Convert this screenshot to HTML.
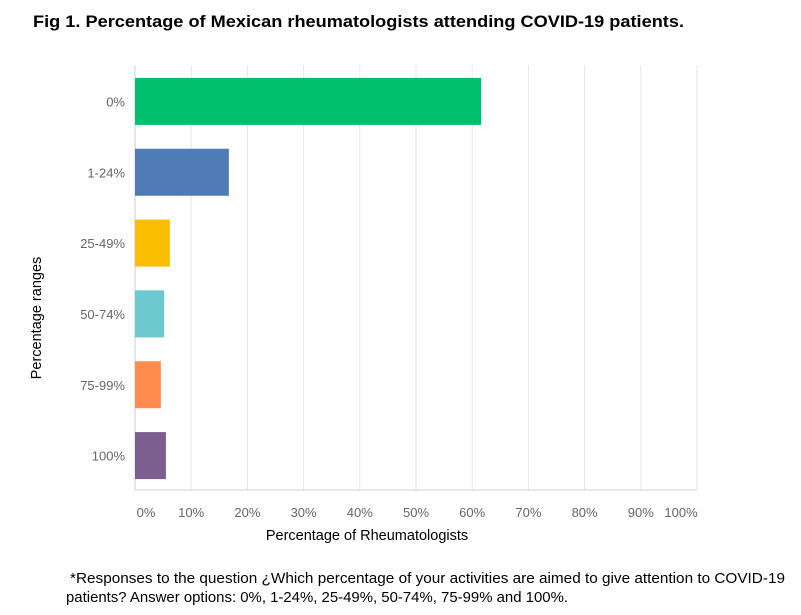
<!DOCTYPE html>
<html><head><meta charset="utf-8"><style>
body{margin:0;background:#fff;width:801px;height:615px;overflow:hidden;font-family:"Liberation Sans",sans-serif;}
svg{position:absolute;left:0;top:0}
</style></head><body>
<svg width="801" height="615">
<text x="33" y="27" font-size="17" font-weight="bold" fill="#000" textLength="651" lengthAdjust="spacingAndGlyphs">Fig 1. Percentage of Mexican rheumatologists attending COVID-19 patients.</text>
<g id="grid"></g><g id="bars"></g><g id="ylabels"></g><g id="xlabels"></g>
<text x="367" y="540" font-size="14.5" text-anchor="middle" fill="#000">Percentage of Rheumatologists</text>
<text transform="translate(41,318) rotate(-90)" font-size="14.5" text-anchor="middle" fill="#000">Percentage ranges</text>
<text x="70" y="583" font-size="14.5" fill="#000" textLength="715" lengthAdjust="spacingAndGlyphs">*Responses to the question ¿Which percentage of your activities are aimed to give attention to COVID-19</text>
<text x="66" y="602" font-size="14.5" fill="#000" textLength="502" lengthAdjust="spacingAndGlyphs">patients? Answer options: 0%, 1-24%, 25-49%, 50-74%, 75-99% and 100%.</text>
</svg>
<script>
const categories=["0%","1-24%","25-49%","50-74%","75-99%","100%"];
const values=[61.6,16.7,6.2,5.2,4.6,5.5];
const colors=["#00bf6f","#507cb6","#f9be00","#6bc8cd","#ff8b4f","#7d5e90"];
const ticks=[0,10,20,30,40,50,60,70,80,90,100];
const tickLabels=["0%","10%","20%","30%","40%","50%","60%","70%","80%","90%","100%"];
const NS="http://www.w3.org/2000/svg";
const x0=135,x1=697,yTop=65,yBot=490;
const xs=v=>x0+(x1-x0)*v/100;
const band=(yBot-yTop)/categories.length;
function mk(t,a,p){const e=document.createElementNS(NS,t);for(const k in a)e.setAttribute(k,a[k]);document.getElementById(p).appendChild(e);return e;}
ticks.forEach((t,i)=>{
 const g=mk("line",{x1:xs(t),x2:xs(t),y1:yTop,y2:yBot,stroke:i==0?"#ccc":"#e6e6e6","stroke-width":1},"grid");
 
 
 let lx=xs(t); if(i==0)lx+=11; if(i==ticks.length-1)lx-=16;
 const l=mk("text",{x:lx,y:517,"font-size":13,"text-anchor":"middle",fill:"#666"},"xlabels");
 l.textContent=tickLabels[i];
 
 
});
const ax=mk("line",{x1:x0,x2:x1,y1:yBot,y2:yBot,stroke:"#ccc"},"grid");


categories.forEach((c,i)=>{
 const cy=yTop+band*(i+0.5)+1;
 const r=mk("rect",{x:x0,y:cy-23.5,width:xs(values[i])-x0,height:47,fill:colors[i]},"bars");
 
 
 const t=mk("text",{x:125,y:cy+5,"font-size":13,"text-anchor":"end",fill:"#666"},"ylabels");
 t.textContent=c;
 
 
});
</script>
</body></html>
